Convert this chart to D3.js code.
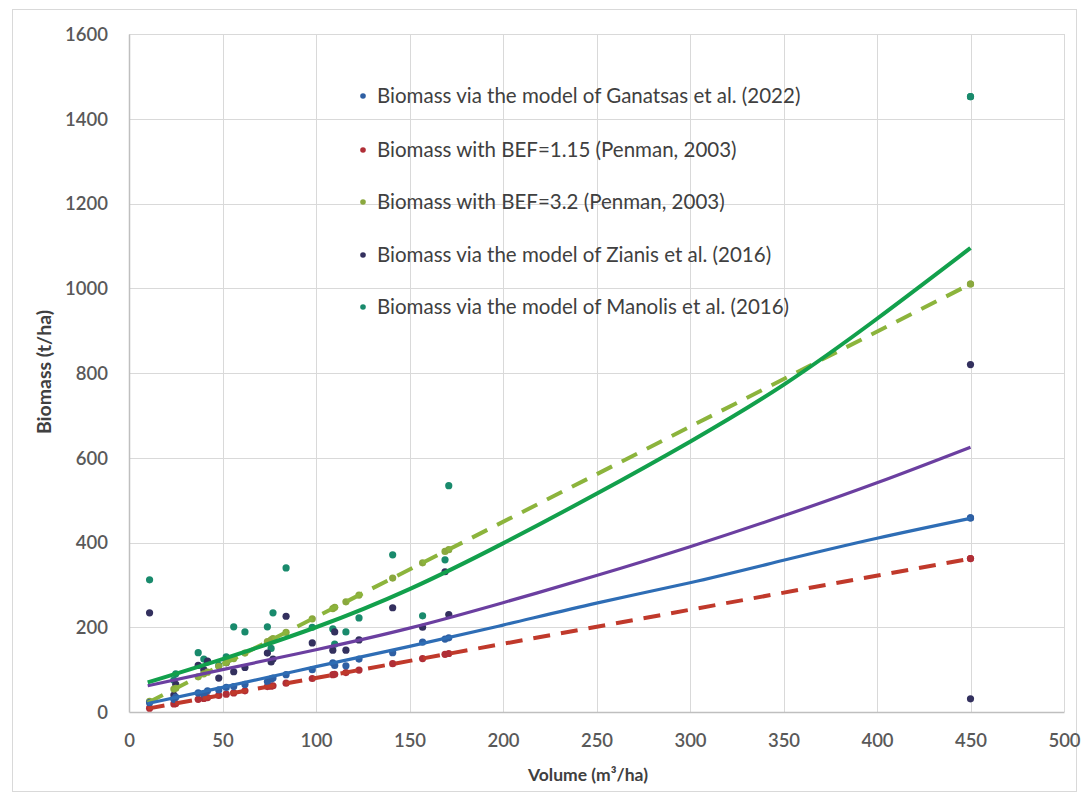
<!DOCTYPE html>
<html>
<head>
<meta charset="utf-8">
<script src="https://cdn.jsdelivr.net/npm/d3@7"></script>
<style>
  html, body { margin: 0; padding: 0; background: #fff; }
  svg { display: block; }
  text { font-family: Lato, "Open Sans", "Liberation Sans", sans-serif; }
</style>
</head>
<body>
<svg id="chart" width="1083" height="795"></svg>
<script>
// ---- Data ----
const xTicks = [0, 50, 100, 150, 200, 250, 300, 350, 400, 450, 500];
const yTicks = [0, 200, 400, 600, 800, 1000, 1200, 1400, 1600];

// stand volumes (m3/ha)
const volumes   = [11, 24, 25, 37, 40, 42, 48, 52, 56, 62, 74, 76, 77, 84, 98, 109, 110, 116, 123, 141, 157, 169, 171, 450, 450];
// biomass per model (t/ha), aligned with volumes
const ganatsas  = [22, 30, 35, 45, 42, 50, 52, 58, 60, 65, 72, 78, 80, 88, 100, 116, 110, 109, 125, 140, 165, 172, 175, 458, 458];
const bef115    = [9, 19, 20, 30, 32, 34, 39, 42, 45, 50, 60, 61, 62, 68, 79, 88, 89, 93, 99, 114, 126, 136, 138, 362, 362];
const bef32     = [25, 54, 56, 83, 90, 94, 108, 117, 126, 139, 166, 170, 173, 188, 220, 244, 247, 260, 276, 316, 352, 379, 383, 1010, 1010];
const zianis    = [234, 40, 65, 110, 100, 120, 80, 116, 95, 105, 139, 118, 125, 226, 163, 146, 189, 146, 170, 246, 200, 331, 230, 820, 31];
const manolis   = [312, 75, 90, 140, 125, 118, 110, 130, 201, 189, 201, 150, 234, 340, 200, 196, 160, 189, 222, 371, 227, 359, 534, 1452, 1452];

// trend lines read at these volumes
const lineV          = [10, 50, 100, 150, 200, 250, 300, 350, 400, 450];
const ganatsasLine   = [20, 58, 107, 155, 205, 257, 305, 358, 410, 457];
const zianisLine     = [62, 100, 147, 198, 258, 322, 390, 463, 541, 625];
const manolisLine    = [70, 125, 200, 290, 398, 515, 638, 772, 928, 1095];
const bef115LineV    = [10, 450];
const bef115Line     = [8, 362];
const bef32LineV     = [10, 450];
const bef32Line      = [22, 1010];

const legendLabels = [
  "Biomass via the model of Ganatsas et al. (2022)",
  "Biomass with BEF=1.15 (Penman, 2003)",
  "Biomass with BEF=3.2 (Penman, 2003)",
  "Biomass via the model of Zianis et al. (2016)",
  "Biomass via the model of Manolis et al. (2016)"
];

// ---- Styles ----
const pointColors = ["#2e5fa3", "#b02e36", "#8aa83e", "#33305e", "#198a6c"];
const lineColors  = ["#2e6db5", "#c0392b", "#8cb43c", "#6b3fa0", "#12a04c"];

const svg = d3.select("#chart");
const W = 1083, H = 795;
const margin = {left: 129, right: W - 1064, top: 34, bottom: H - 712};

svg.append("rect").attr("x", 0).attr("y", 0).attr("width", W).attr("height", H).attr("fill", "#fff");
svg.append("rect").attr("x", 12.5).attr("y", 9.5).attr("width", 1064).attr("height", 782)
  .attr("fill", "none").attr("stroke", "#d9d9d9");

const x = d3.scaleLinear().domain([0, 500]).range([margin.left, W - margin.right]);
const y = d3.scaleLinear().domain([0, 1600]).range([H - margin.bottom, margin.top]);

// gridlines
svg.append("g").selectAll("line").data(yTicks.filter(d => d > 0)).join("line")
  .attr("x1", x(0)).attr("x2", x(500))
  .attr("y1", d => Math.round(y(d)) + 0.5).attr("y2", d => Math.round(y(d)) + 0.5)
  .attr("stroke", "#d9d9d9").attr("stroke-width", 1);
svg.append("g").selectAll("line").data(xTicks.filter(d => d > 0)).join("line")
  .attr("y1", y(0)).attr("y2", y(1600))
  .attr("x1", d => Math.round(x(d)) + 0.5).attr("x2", d => Math.round(x(d)) + 0.5)
  .attr("stroke", "#d9d9d9").attr("stroke-width", 1);

// axes
const fmt = d3.format("d");
const xAxis = svg.append("g").attr("transform", `translate(0,${y(0)})`)
  .call(d3.axisBottom(x).tickValues(xTicks).tickFormat(fmt).tickSize(0).tickPadding(22));
const yAxis = svg.append("g").attr("transform", `translate(${x(0)},0)`)
  .call(d3.axisLeft(y).tickValues(yTicks).tickFormat(fmt).tickSize(0).tickPadding(21));
[xAxis, yAxis].forEach(a => {
  a.select(".domain").attr("stroke", "#bfbfbf").attr("stroke-width", 1.5);
  a.selectAll("text").attr("fill", "#595959").attr("font-size", 18.5).attr("font-weight", 600)
    .style("font-family", "Lato, sans-serif");
});
yAxis.selectAll("text").attr("dy", "0.35em");

// axis titles
svg.append("text").attr("x", 588).attr("y", 781).attr("text-anchor", "middle")
  .attr("font-size", 17.5).attr("font-weight", 700).attr("fill", "#404040").text("Volume (m³/ha)");
svg.append("text").attr("transform", "translate(51,372) rotate(-90)").attr("text-anchor", "middle")
  .attr("font-size", 19.5).attr("font-weight", 700).attr("fill", "#404040").text("Biomass (t/ha)");

// scatter points
const seriesValues = [ganatsas, bef115, bef32, zianis, manolis];
const drawOrder = [4, 3, 2, 1, 0];
drawOrder.forEach(si => {
  svg.append("g").selectAll("circle").data(volumes.map((v, i) => [v, seriesValues[si][i]])).join("circle")
    .attr("cx", d => x(d[0])).attr("cy", d => y(d[1])).attr("r", 3.6)
    .attr("fill", pointColors[si]);
});

// trend lines
const line = d3.line().x(d => x(d[0])).y(d => y(d[1])).curve(d3.curveNatural);
const lines = [
  {v: bef115LineV, b: bef115Line, c: lineColors[1], w: 4, dash: "17,11"},
  {v: bef32LineV,  b: bef32Line,  c: lineColors[2], w: 4, dash: "17,11"},
  {v: lineV, b: ganatsasLine, c: lineColors[0], w: 3.2, dash: null},
  {v: lineV, b: zianisLine,   c: lineColors[3], w: 3.2, dash: null},
  {v: lineV, b: manolisLine,  c: lineColors[4], w: 4,   dash: null}
];
lines.forEach(L => {
  svg.append("path").datum(L.v.map((v, i) => [v, L.b[i]]))
    .attr("d", line).attr("fill", "none").attr("stroke", L.c)
    .attr("stroke-width", L.w).attr("stroke-dasharray", L.dash);
});

// legend
const legY = [96, 150, 202, 255, 307];
const leg = svg.append("g");
legendLabels.forEach((t, i) => {
  leg.append("circle").attr("cx", 363).attr("cy", legY[i]).attr("r", 2.8).attr("fill", pointColors[i]);
  leg.append("text").attr("x", 377).attr("y", legY[i]).attr("dy", "0.35em")
    .attr("font-size", 20.5).attr("fill", "#404040").text(t);
});
</script>
</body>
</html>
